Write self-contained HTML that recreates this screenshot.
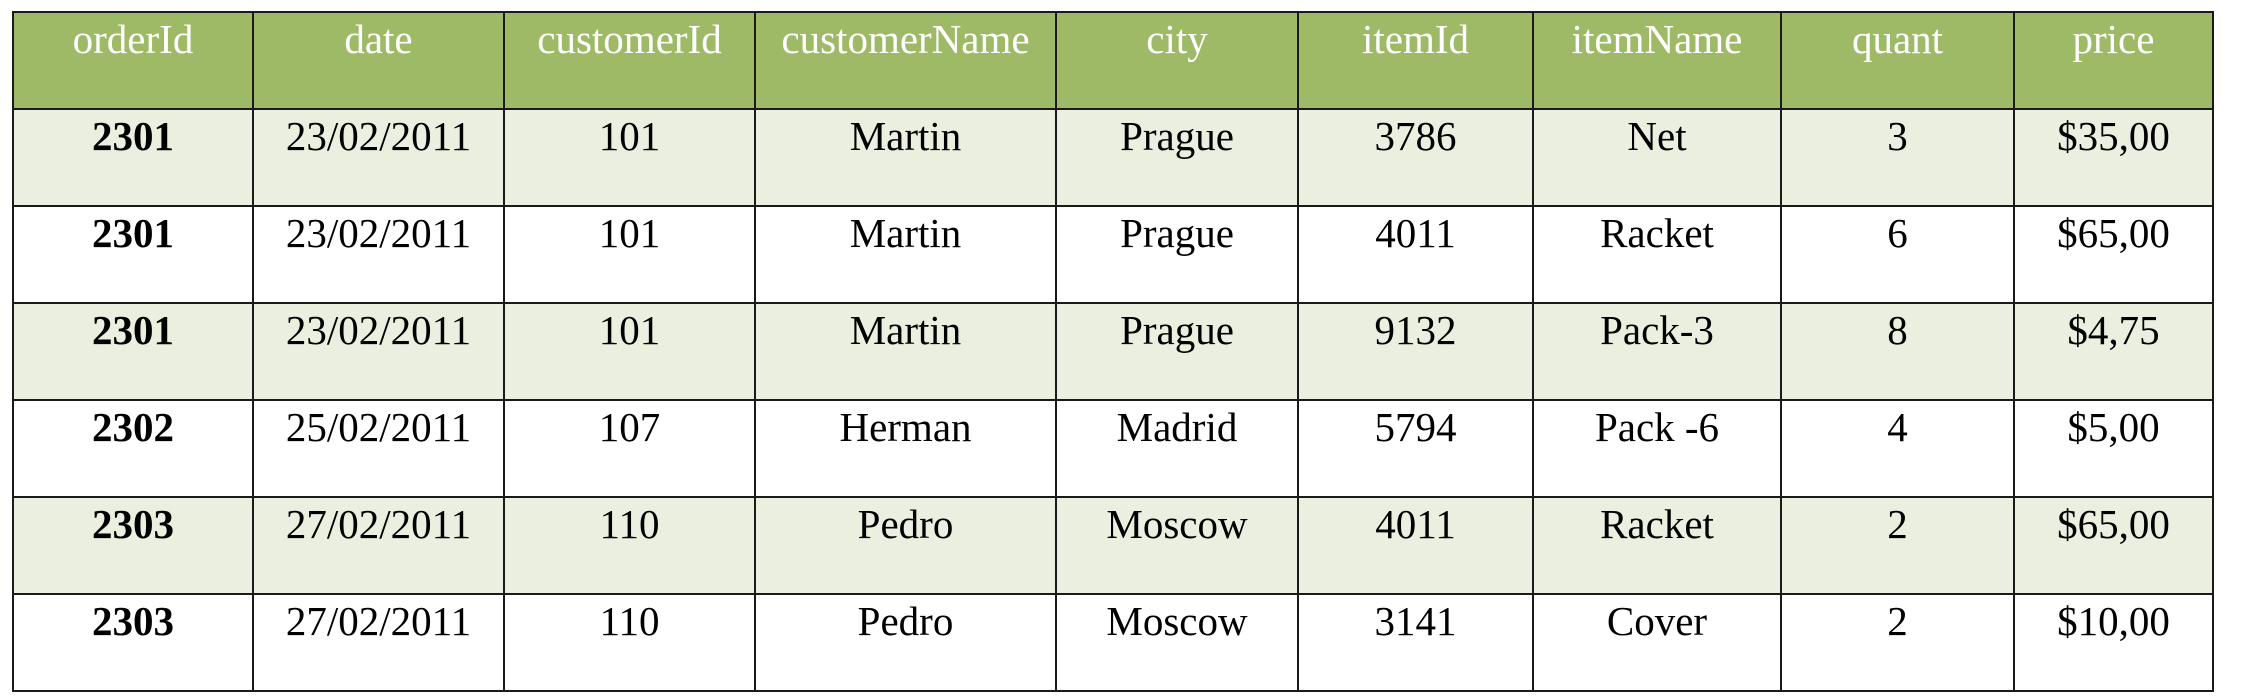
<!DOCTYPE html>
<html><head><meta charset="utf-8"><style>
body{margin:0;background:#fff;width:2260px;height:700px;overflow:hidden;}
table{position:absolute;left:12px;top:11px;border-collapse:collapse;table-layout:fixed;font-family:"Liberation Serif",serif;font-size:41px;}
td,th{border:2px solid #1a1a1a;text-align:center;vertical-align:top;padding:4px 0 0 0;line-height:44px;height:97px;box-sizing:border-box;}
th{background:#9fba67;color:#fff;font-weight:normal;height:97px;}
tr.a td{background:#ebefdf;}
td.b{font-weight:bold;}
</style></head><body>
<table>
<colgroup><col style="width:240px"><col style="width:251px"><col style="width:251px"><col style="width:301px"><col style="width:242px"><col style="width:235px"><col style="width:248px"><col style="width:233px"><col style="width:199px"></colgroup>
<tr><th>orderId</th><th>date</th><th>customerId</th><th>customerName</th><th>city</th><th>itemId</th><th>itemName</th><th>quant</th><th>price</th></tr>
<tr class="a"><td class="b">2301</td><td>23/02/2011</td><td>101</td><td>Martin</td><td>Prague</td><td>3786</td><td>Net</td><td>3</td><td>$35,00</td></tr>
<tr><td class="b">2301</td><td>23/02/2011</td><td>101</td><td>Martin</td><td>Prague</td><td>4011</td><td>Racket</td><td>6</td><td>$65,00</td></tr>
<tr class="a"><td class="b">2301</td><td>23/02/2011</td><td>101</td><td>Martin</td><td>Prague</td><td>9132</td><td>Pack-3</td><td>8</td><td>$4,75</td></tr>
<tr><td class="b">2302</td><td>25/02/2011</td><td>107</td><td>Herman</td><td>Madrid</td><td>5794</td><td>Pack -6</td><td>4</td><td>$5,00</td></tr>
<tr class="a"><td class="b">2303</td><td>27/02/2011</td><td>110</td><td>Pedro</td><td>Moscow</td><td>4011</td><td>Racket</td><td>2</td><td>$65,00</td></tr>
<tr><td class="b">2303</td><td>27/02/2011</td><td>110</td><td>Pedro</td><td>Moscow</td><td>3141</td><td>Cover</td><td>2</td><td>$10,00</td></tr>
</table>
</body></html>
